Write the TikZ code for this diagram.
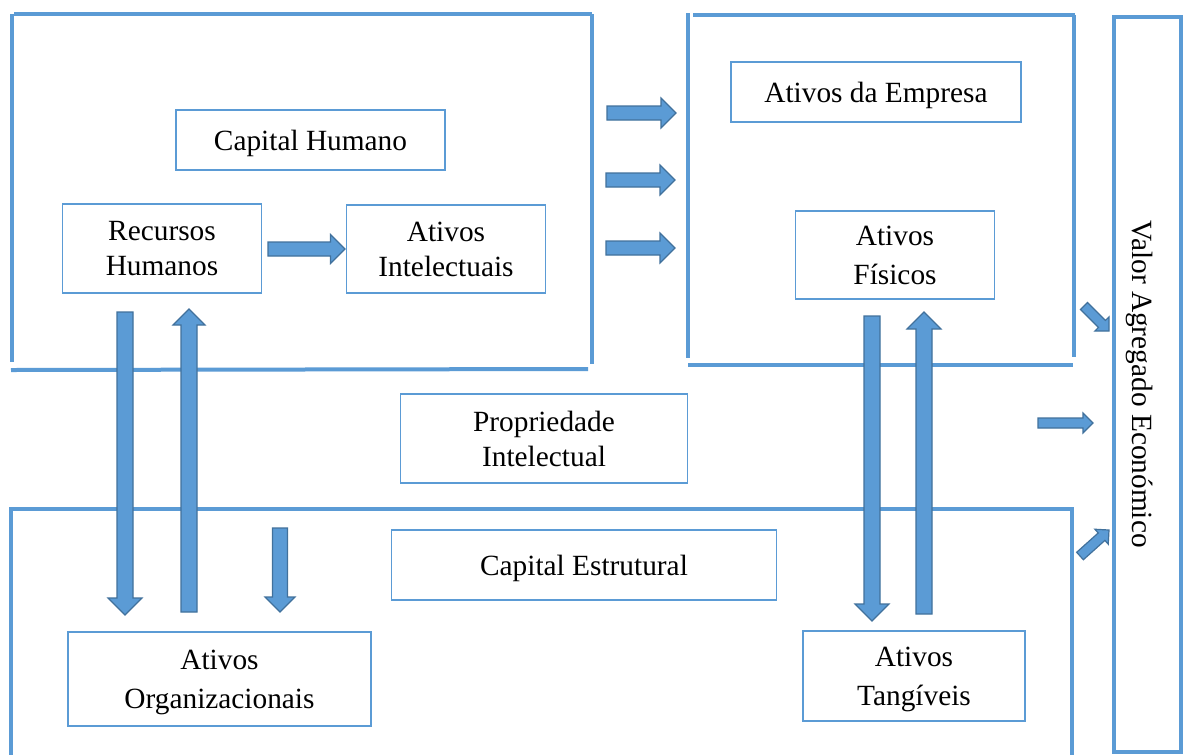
\documentclass[tikz,border=0pt]{standalone}
\usepackage{fontspec}
\setmainfont{Liberation Serif}
\usetikzlibrary{calc}
\definecolor{frameblue}{HTML}{5B9BD5}
\definecolor{boxblue}{HTML}{5B9BD5}
\definecolor{arrowfill}{HTML}{5B9BD5}
\definecolor{arrowline}{HTML}{41719C}
\tikzset{
  frameline/.style={draw=frameblue, line width=3pt},
  txtbox/.style 2 args={draw=boxblue, line width=1.1pt, inner sep=0pt, align=center,
     minimum width=#1*0.75pt, minimum height=#2*0.75pt, text depth=0pt},
  tightlines/.style={font=\fontsize{22}{26}\selectfont},
  looselines/.style={font=\fontsize{22}{29}\selectfont},
  blockarrow/.style={fill=arrowfill, draw=arrowline, line width=0.9pt, line join=miter}
}
% #1 name, (#2,#3) tail, (#4,#5) tip, #6 shaft half width, #7 head half width (= head length)
\newcommand\blockarrow[7]{%
  \coordinate (#1-tail) at (#2,#3);
  \coordinate (#1-tip) at (#4,#5);
  \pgfmathsetmacro\baang{atan2(-(#5-#3),#4-#2)}%
  \pgfmathsetmacro\balen{veclen(#4-#2,#5-#3)}%
  \pgfmathsetmacro\babase{\balen-#7}%
  \begin{scope}[shift={(#1-tail)}, rotate=\baang]
    \draw[blockarrow] (0,-#6) -- (\babase,-#6) -- (\babase,-#7) -- (\balen,0)
      -- (\babase,#7) -- (\babase,#6) -- (0,#6) -- cycle;
  \end{scope}}
\begin{document}
\begin{tikzpicture}[x=0.75pt,y=-0.75pt]
\useasboundingbox[fill=white] (0,0) rectangle (1184,754);

% ---- frames ----
% Capital Humano frame
\draw[frameline] (12,14) -- (12,362);
\draw[frameline] (14,14) -- (592,14);
\draw[frameline] (592,14) -- (592,364);
\draw[frameline] (11,370) -- (588,369);
% Ativos da Empresa frame
\draw[frameline] (688,13) -- (688,358);
\draw[frameline] (693,15) -- (1075,15);
\draw[frameline] (1074,15) -- (1074,357);
\draw[frameline] (688,365) -- (1073,365);
% Capital Estrutural frame
\draw[frameline] (11,760) -- (11,509) -- (1072,509) -- (1072,760);
% Valor Agregado frame
\draw[frameline] (1114,17) rectangle (1181,752);

% ---- text boxes ----
\node[txtbox={269}{60}, tightlines] (ch) at (310.5,140) {Capital Humano};
\node[txtbox={198.5}{89}, tightlines] (rh) at (162,248.5) {Recursos\\Humanos};
\node[txtbox={198.5}{88}, tightlines] (ai) at (446,249) {Ativos\\Intelectuais};
\node[txtbox={290}{60}, tightlines] (ae) at (876,92) {Ativos da Empresa};
\node[txtbox={198.5}{88}, looselines] (af) at (895,255) {Ativos\\Físicos};
\node[txtbox={287.5}{89}, tightlines] (pi) at (544,438.5) {Propriedade\\Intelectual};
\node[txtbox={384.5}{70}, tightlines] (ce) at (584,565) {Capital Estrutural};
\node[txtbox={303}{94}, looselines] (ao) at (219.5,679) {Ativos\\Organizacionais};
\node[txtbox={222}{90}, looselines] (at) at (914,676) {Ativos\\Tangíveis};
\node[rotate=-90, inner sep=0pt, font=\fontsize{22}{26}\selectfont] (vae) at (1140,384) {Valor Agregado Económico};

% ---- block arrows ----
\blockarrow{r1}{607}{113}{676}{113}{7}{15}
\blockarrow{r2}{606}{180}{675}{180}{7}{15}
\blockarrow{r3}{606}{248}{675}{248}{7}{15}
\blockarrow{ri}{268}{249}{345}{249}{7}{14.5}
\blockarrow{da}{125}{312}{125}{615}{8}{17}
\blockarrow{ub}{189}{612}{189}{309}{8}{16}
\blockarrow{dc}{280}{528}{280}{612}{7.5}{15}
\blockarrow{dd}{872}{316}{872}{621}{8}{17}
\blockarrow{ue}{924}{614}{924}{312}{8}{17}
\blockarrow{v1}{1084}{306}{1109}{331}{5}{10}
\blockarrow{v2}{1038}{423}{1093}{423}{5}{10}
\blockarrow{v3}{1080}{556}{1109}{530}{5}{10}
\end{tikzpicture}
\end{document}
